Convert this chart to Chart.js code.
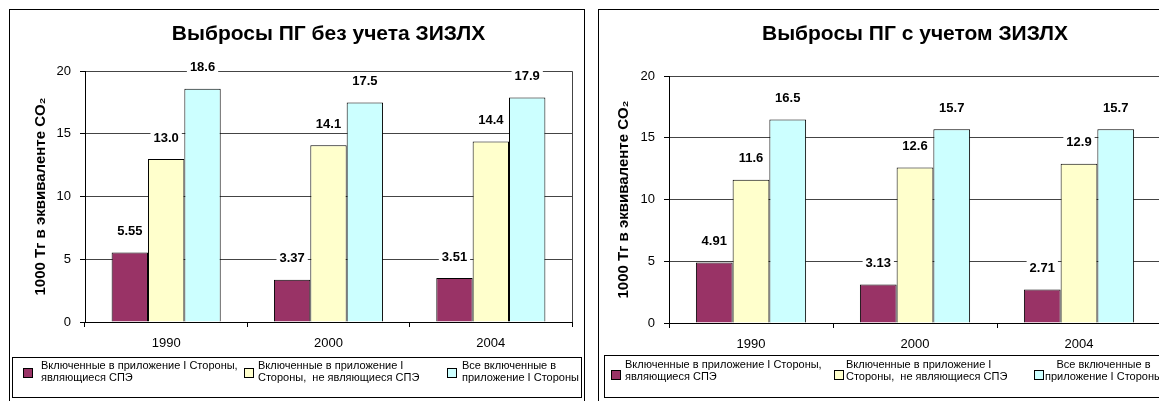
<!DOCTYPE html>
<html>
<head>
<meta charset="utf-8">
<script src="https://cdn.jsdelivr.net/npm/chart.js@4.4.1/dist/chart.umd.min.js"></script>
<style>
  body { margin: 0; width: 1159px; height: 401px; overflow: hidden; position: relative; background: #fff; }
  canvas { position: absolute; top: 0; }
  .frame { position: absolute; top: 9px; height: 420px; border: 1px solid #000; box-sizing: border-box; pointer-events: none; }
</style>
</head>
<body>
<div class="frame" style="left:9px;width:576px"></div>
<div class="frame" style="left:598px;width:640px"></div>
<canvas id="withoutLulucf" width="575" height="401" style="left:9px"></canvas>
<canvas id="withLulucf" width="575" height="401" style="left:598px"></canvas>
<script>
const years = ['1990', '2000', '2004'];
const seriesNames = [
  ['Включенные в приложение I Стороны,', 'являющиеся СПЭ'],
  ['Включенные в приложение I', 'Стороны,  не являющиеся СПЭ'],
  ['Все включенные в', 'приложение I Стороны']
];
const seriesColors = ['#993366', '#FFFFCC', '#CCFFFF'];

// без учета ЗИЗЛХ
const speNoLulucf = [5.55, 3.37, 3.51];
const nonSpeNoLulucf = [13.0, 14.1, 14.4];
const allNoLulucf = [18.6, 17.5, 17.9];

// с учетом ЗИЗЛХ
const speLulucf = [4.91, 3.13, 2.71];
const nonSpeLulucf = [11.6, 12.6, 12.9];
const allLulucf = [16.5, 15.7, 15.7];

const yTicks = [0, 5, 10, 15, 20];
const yTitle = '1000 Тг в эквиваленте CO₂';

const FONT = "'Liberation Sans', Arial, sans-serif";
Chart.defaults.font.family = FONT;
Chart.defaults.color = '#000';

const gridColor = '#444';

// value labels above the bars, on a white patch that breaks the gridlines
const valueLabels = {
  id: 'valueLabels',
  afterDatasetsDraw(chart) {
    const ctx = chart.ctx;
    ctx.save();
    ctx.font = 'bold 13px ' + FONT;
    ctx.textAlign = 'center';
    ctx.textBaseline = 'middle';
    chart.data.datasets.forEach((ds, i) => {
      chart.getDatasetMeta(i).data.forEach((bar, j) => {
        const v = ds.data[j];
        const txt = v < 10 ? v.toFixed(2) : v.toFixed(1);
        const w = ctx.measureText(txt).width;
        const y = bar.y - 22;
        ctx.fillStyle = '#fff';
        ctx.fillRect(bar.x - w / 2 - 3, y - 7, w + 6, 14);
        ctx.fillStyle = '#000';
        ctx.fillText(txt, bar.x, y + 1);
      });
    });
    ctx.restore();
  }
};

// right edge of the plot area
const plotEdge = {
  id: 'plotEdge',
  beforeDatasetsDraw(chart) {
    const { ctx, chartArea } = chart;
    const x = Math.round(chartArea.right) + 0.5;
    ctx.save();
    ctx.strokeStyle = gridColor;
    ctx.lineWidth = 1;
    ctx.beginPath();
    ctx.moveTo(x, chartArea.top);
    ctx.lineTo(x, chartArea.bottom);
    ctx.stroke();
    ctx.restore();
  }
};

// boxed legend with two-line entries
const boxLegend = {
  id: 'boxLegend',
  afterDraw(chart, args, o) {
    const ctx = chart.ctx;
    ctx.save();
    ctx.strokeStyle = '#000';
    ctx.lineWidth = 1;
    ctx.strokeRect(o.box[0] + 0.5, o.box[1] + 0.5, o.box[2], o.box[3]);
    ctx.font = '11px ' + FONT;
    ctx.textBaseline = 'middle';
    chart.data.datasets.forEach((ds, i) => {
      const sx = o.squares[i];
      ctx.fillStyle = ds.backgroundColor;
      ctx.fillRect(sx, o.squareY, 9, 9);
      ctx.strokeRect(sx + 0.5, o.squareY + 0.5, 9, 9);
      ctx.fillStyle = '#000';
      const lines = seriesNames[i];
      const widths = lines.map(l => ctx.measureText(l).width);
      const maxW = Math.max(...widths);
      lines.forEach((line, k) => {
        let tx = o.texts[i];
        if (o.centered && o.centered[i]) tx += (maxW - widths[k]) / 2;
        ctx.fillText(line, tx, o.lineY[k]);
      });
    });
    ctx.restore();
  }
};

function makeChart(id, title, spe, nonSpe, all, lay) {
  const values = [spe, nonSpe, all];
  new Chart(document.getElementById(id), {
    type: 'bar',
    data: {
      labels: years,
      datasets: values.map((d, i) => ({
        label: seriesNames[i].join(' '),
        data: d,
        backgroundColor: seriesColors[i],
        borderColor: '#000',
        borderWidth: 1,
        barPercentage: 1.0,
        categoryPercentage: 0.672
      }))
    },
    options: {
      responsive: false,
      animation: false,
      events: [],
      layout: { padding: { left: 0, right: 12, top: 0, bottom: lay.padBottom } },
      scales: {
        x: {
          grid: { drawOnChartArea: false, drawTicks: true, tickLength: 5, color: '#000', offset: true },
          border: { color: '#000' },
          ticks: { font: { size: 13 }, padding: 9, color: '#000' },
          afterFit(scale) { scale.height = 28; }
        },
        y: {
          min: 0,
          max: 20,
          afterBuildTicks(scale) { scale.ticks = yTicks.map(v => ({ value: v })); },
          grid: { color: gridColor, tickColor: '#000', tickLength: 5, drawTicks: true },
          border: { color: '#000' },
          ticks: { font: { size: 13 }, padding: 9, color: '#000' },
          title: {
            display: true,
            text: yTitle,
            font: { size: 15, weight: 'bold' },
            padding: { top: lay.yTitlePad, bottom: 0 }
          },
          afterFit(scale) { scale.width = lay.yWidth; }
        }
      },
      plugins: {
        legend: { display: false },
        tooltip: { enabled: false },
        title: {
          display: true,
          text: title,
          fullSize: false,
          color: '#000',
          font: { size: 21, weight: 'bold' },
          padding: { top: 22, bottom: lay.titleBottom }
        },
        boxLegend: lay.legend
      }
    },
    plugins: [plotEdge, valueLabels, boxLegend]
  });
}

makeChart('withoutLulucf', 'Выбросы ПГ без учета ЗИЗЛХ', speNoLulucf, nonSpeNoLulucf, allNoLulucf, {
  padBottom: 51, yWidth: 76, yTitlePad: 23, titleBottom: 24,
  legend: {
    box: [3, 357, 569, 40],
    squares: [14, 235, 438],
    texts: [32, 249, 453],
    squareY: 368,
    lineY: [366, 378]
  }
});

makeChart('withLulucf', 'Выбросы ПГ с учетом ЗИЗЛХ', speLulucf, nonSpeLulucf, allLulucf, {
  padBottom: 50, yWidth: 71, yTitlePad: 17, titleBottom: 29,
  legend: {
    box: [6, 355, 620, 42],
    squares: [13, 236, 436],
    texts: [27, 248, 447],
    centered: [false, false, true],
    squareY: 370,
    lineY: [365, 377]
  }
});
</script>
</body>
</html>
